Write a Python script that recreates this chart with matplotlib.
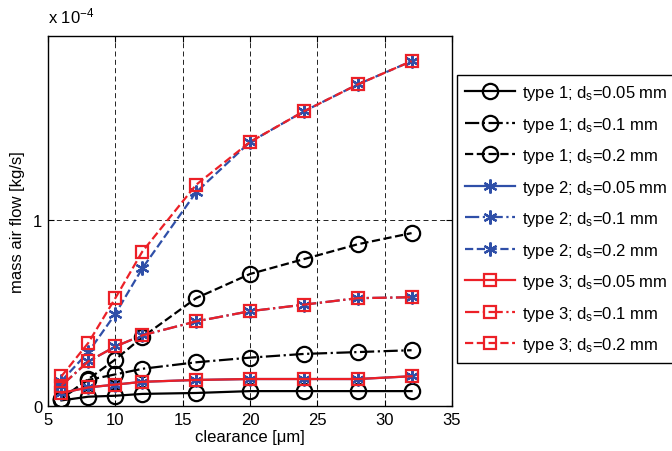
import numpy as np
import matplotlib
matplotlib.use("Agg")
import matplotlib.pyplot as plt

plt.rcParams['font.family'] = ['Liberation Sans', 'DejaVu Sans']
plt.rcParams['mathtext.fontset'] = 'custom'
plt.rcParams['mathtext.rm'] = 'Liberation Sans'
plt.rcParams['mathtext.it'] = 'Liberation Sans'

# clearance [um]
clearance = [6, 8, 10, 12, 16, 20, 24, 28, 32]

# mass air flow, in units of 1e-4 kg/s
type1_005 = [0.03, 0.05, 0.055, 0.065, 0.07, 0.08, 0.08, 0.08, 0.08]
type1_01 = [0.04, 0.14, 0.17, 0.20, 0.235, 0.26, 0.28, 0.29, 0.30]
type1_02 = [0.04, 0.145, 0.25, 0.37, 0.58, 0.71, 0.79, 0.87, 0.93]
type2_005 = [0.07, 0.10, 0.115, 0.13, 0.14, 0.145, 0.145, 0.145, 0.16]
type2_01 = [0.11, 0.24, 0.32, 0.38, 0.455, 0.51, 0.545, 0.58, 0.585]
type2_02 = [0.135, 0.29, 0.495, 0.74, 1.15, 1.42, 1.585, 1.73, 1.855]
type3_005 = [0.07, 0.10, 0.115, 0.13, 0.14, 0.145, 0.145, 0.145, 0.16]
type3_01 = [0.11, 0.24, 0.32, 0.38, 0.455, 0.51, 0.545, 0.58, 0.585]
type3_02 = [0.16, 0.34, 0.58, 0.83, 1.19, 1.42, 1.585, 1.73, 1.855]

blue = '#2F4FA8'
red = '#EC2027'
fs = 12

fig = plt.figure(figsize=(6.72, 4.52), dpi=100)
ax = fig.add_axes([0.0714, 0.0996, 0.6012, 0.8184])

lw = 1.6
series = [
    (type1_005, 'k', '-', 'o', 'type 1; d$_\\mathregular{s}$=0.05 mm'),
    (type1_01, 'k', '-.', 'o', 'type 1; d$_\\mathregular{s}$=0.1 mm'),
    (type1_02, 'k', '--', 'o', 'type 1; d$_\\mathregular{s}$=0.2 mm'),
    (type2_005, blue, '-', (6, 2, 0), 'type 2; d$_\\mathregular{s}$=0.05 mm'),
    (type2_01, blue, '-.', (6, 2, 0), 'type 2; d$_\\mathregular{s}$=0.1 mm'),
    (type2_02, blue, '--', (6, 2, 0), 'type 2; d$_\\mathregular{s}$=0.2 mm'),
    (type3_005, red, '-', 's', 'type 3; d$_\\mathregular{s}$=0.05 mm'),
    (type3_01, red, '-.', 's', 'type 3; d$_\\mathregular{s}$=0.1 mm'),
    (type3_02, red, '--', 's', 'type 3; d$_\\mathregular{s}$=0.2 mm'),
]
sizes = {'o': 11, 's': 9}
for y, c, ls, m, lab in series:
    ms = sizes.get(m, 10) if isinstance(m, str) else 10
    ax.plot(clearance, y, color=c, linestyle=ls, marker=m, markersize=ms,
            markerfacecolor='none', markeredgecolor=c, markeredgewidth=lw,
            linewidth=lw, label=lab)

ax.set_xlim(5, 35)
ax.set_ylim(0, 1.99)
ax.set_xticks([5, 10, 15, 20, 25, 30, 35])
ax.set_yticks([0, 1])
ax.tick_params(direction='in', top=True, right=True, labelsize=fs, length=4, pad=4)
ax.grid(True, color='k', linestyle=(0, (6, 4)), linewidth=0.6)
for s in ax.spines.values():
    s.set_linewidth(1.0)

ax.set_xlabel('clearance [μm]', fontsize=fs, labelpad=2)
ax.set_ylabel('mass air flow [kg/s]', fontsize=fs, labelpad=6)
ax.text(0.0, 1.03, 'x 10$^{\\mathregular{-4}}$', transform=ax.transAxes,
        fontsize=fs, ha='left', va='bottom')

fig.legend(loc='upper left', bbox_to_anchor=(0.680, 0.832), fontsize=fs,
           frameon=True, fancybox=False, edgecolor='k', framealpha=1,
           handlelength=3.0, handletextpad=0.4, labelspacing=0.75,
           borderpad=0.5, borderaxespad=0)

fig.savefig('out.png', dpi=100)
